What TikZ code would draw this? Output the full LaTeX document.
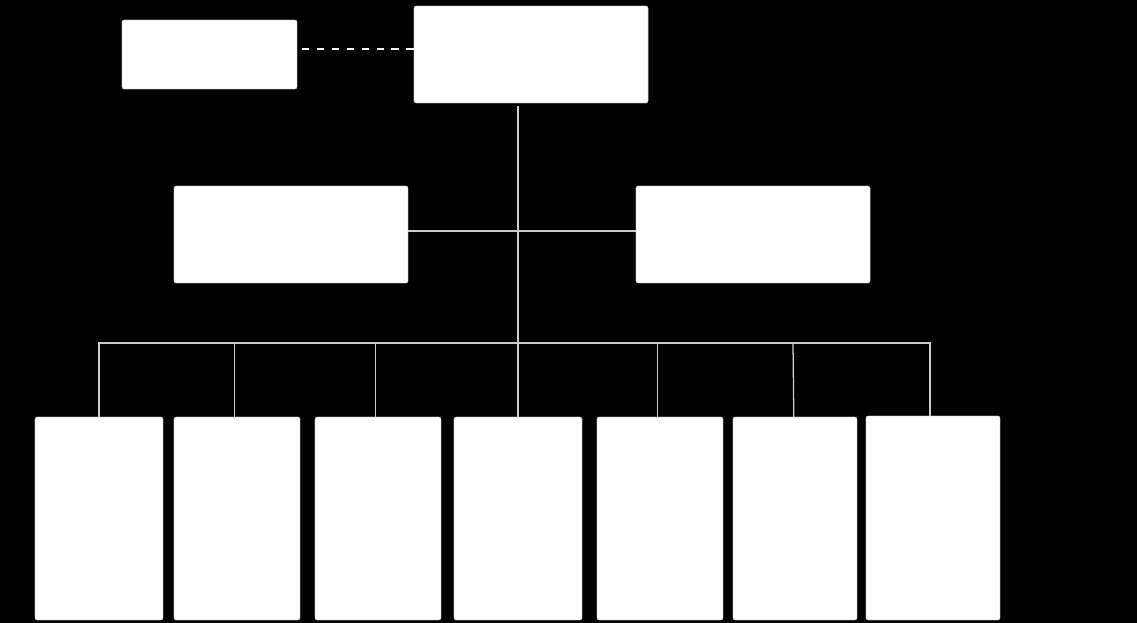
\documentclass[tikz,border=0pt]{standalone}
\usepackage{tikz}
\usetikzlibrary{shapes.geometric, arrows}
\tikzstyle{unit} = [rectangle, rounded corners=1.5pt, inner sep=0pt, outer sep=0pt, draw=black!25, line width=0.3pt, fill=white]
\tikzstyle{head} = [unit, minimum width=5.85cm, minimum height=2.425cm]
\tikzstyle{team} = [unit, minimum height=5.075cm]
\tikzstyle{link} = [draw=black!20, line width=0.9pt]

\begin{document}
\begin{tikzpicture}[x=0.025cm, y=-0.025cm]
	\useasboundingbox[fill=black] (0,0) rectangle (1137,623);

	\node (adv) [unit, minimum width=4.375cm, minimum height=1.725cm] at (209.5,54.5) {};
	\node (top) [head] at (531,54.5) {};
	\node (lmid) [head] at (291,234.5) {};
	\node (rmid) [head] at (753,234.5) {};

	\node (t1) [team, minimum width=3.2cm] at (99,518.5) {};
	\node (t2) [team, minimum width=3.15cm] at (237,518.5) {};
	\node (t3) [team, minimum width=3.15cm] at (378,518.5) {};
	\node (t4) [team, minimum width=3.2cm] at (518,518.5) {};
	\node (t5) [team, minimum width=3.15cm] at (660,518.5) {};
	\node (t6) [team, minimum width=3.1cm] at (795,518.5) {};
	\node (t7) [team, minimum width=3.35cm, minimum height=5.1cm] at (933,518) {};

	\coordinate (bus) at (519,343);

	\draw [white, line width=1.3pt, dash pattern=on 5.2pt off 5.4pt] ([yshift=0.1375cm]adv.east) ++(5,0) -- ([yshift=0.1375cm]top.west);
	\draw [link] (t4.north |- top.south) ++(0,3) -- (t4.north);
	\draw [link] ([yshift=0.0875cm]lmid.east) -- ([yshift=0.0875cm]rmid.west);
	\draw [link] (t1.north) |- (bus) -| ([xshift=-0.075cm]t7.north);
	\foreach \t in {t2,t3,t5}
		\draw [link] ([xshift=-0.06cm]\t.north) -- ([xshift=-0.06cm]\t.north |- bus);
	\draw [link] ([xshift=-0.03cm]t6.north) -- ([xshift=-0.05cm]t6.north |- bus);
\end{tikzpicture}
\end{document}
